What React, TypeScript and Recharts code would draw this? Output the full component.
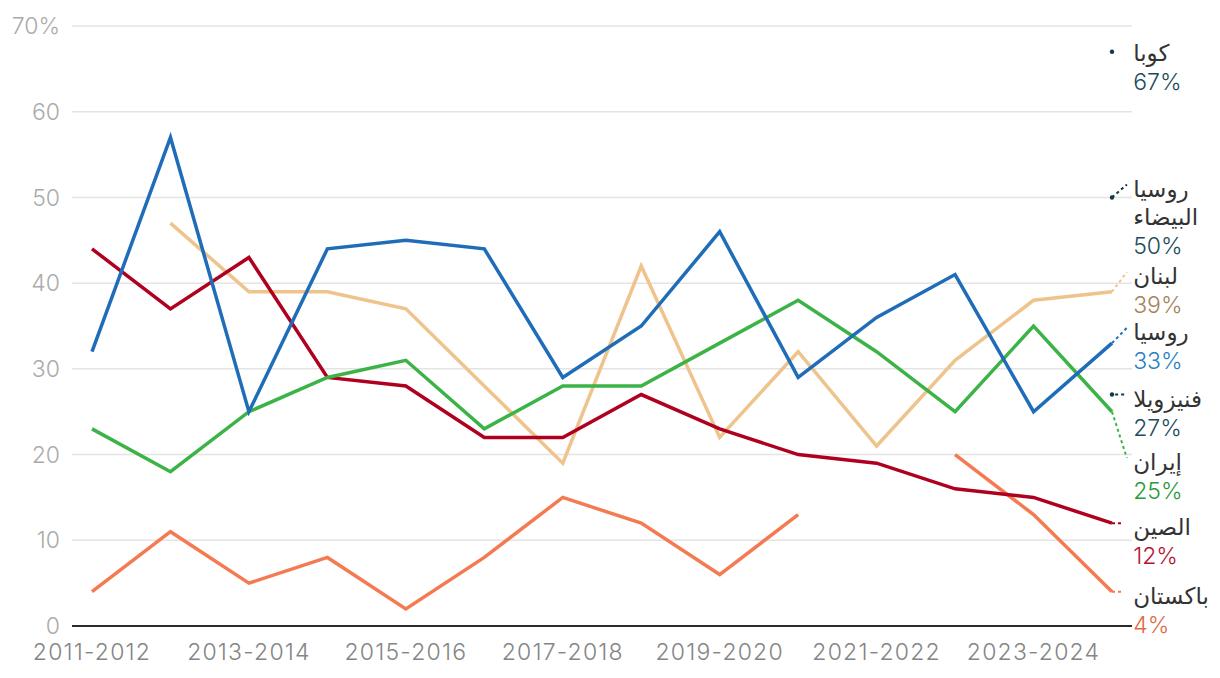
import React from "react"
import {
  LineChart,
  Line,
  XAxis,
  YAxis,
  CartesianGrid,
  ReferenceLine,
  ReferenceDot,
} from "recharts"

// seasons on the x axis
const categories = [
  "2011-2012",
  "2012-2013",
  "2013-2014",
  "2014-2015",
  "2015-2016",
  "2016-2017",
  "2017-2018",
  "2018-2019",
  "2019-2020",
  "2020-2021",
  "2021-2022",
  "2022-2023",
  "2023-2024",
  "2024-2025",
]

const yTicks = [0, 10, 20, 30, 40, 50, 60, 70]

// values in %
const russia = [32, 57, 25, 44, 45, 44, 29, 35, 46, 29, 36, 41, 25, 33]
const lebanon = [null, 47, 39, 39, 37, 28, 19, 42, 22, 32, 21, 31, 38, 39]
const iran = [23, 18, 25, 29, 31, 23, 28, 28, 33, 38, 32, 25, 35, 25]
const china = [44, 37, 43, 29, 28, 22, 22, 27, 23, 20, 19, 16, 15, 12]
const pakistan = [4, 11, 5, 8, 2, 8, 15, 12, 6, 13, null, 20, 13, 4]
const cuba = [null, null, null, null, null, null, null, null, null, null, null, null, null, 67]
const belarus = [null, null, null, null, null, null, null, null, null, null, null, null, null, 50]
const venezuela = [null, null, null, null, null, null, null, null, null, null, null, null, null, 27]

const NAVY = "#0e3a4c"

// series drawing order, colours and end labels
const series = [
  { key: "lebanon", values: lebanon, name: ["لبنان"], color: "#efc38c", text: "#a8825a", labelAt: 41.3, dotOnly: false },
  { key: "pakistan", values: pakistan, name: ["باكستان"], color: "#f47a52", text: "#e06a45", labelAt: 4, dotOnly: false },
  { key: "china", values: china, name: ["الصين"], color: "#b0001f", text: "#b3142f", labelAt: 12, dotOnly: false },
  { key: "iran", values: iran, name: ["إيران"], color: "#3bb346", text: "#2a9a3b", labelAt: 19.6, dotOnly: false },
  { key: "russia", values: russia, name: ["روسيا"], color: "#1f6db8", text: "#2b7fc6", labelAt: 34.8, dotOnly: false },
  { key: "venezuela", values: venezuela, name: ["فنيزويلا"], color: NAVY, text: "#1d4b5c", labelAt: 27, dotOnly: true },
  { key: "belarus", values: belarus, name: ["روسيا", "البيضاء"], color: NAVY, text: "#1d4b5c", labelAt: 51.5, dotOnly: true },
  { key: "cuba", values: cuba, name: ["كوبا"], color: NAVY, text: "#1d4b5c", labelAt: 67.3, dotOnly: true },
]

const data = categories.map((c, i) => {
  const row: any = { x: i, season: c }
  series.forEach((s) => {
    row[s.key] = s.values[i]
  })
  return row
})

const LAST = categories.length - 1
const FONT = "Inter, 'DejaVu Sans', sans-serif"

export default function App() {
  return (
    <div style={{ position: "absolute", left: 0, top: 0, fontFamily: FONT }}>
      <LineChart
        width={1220}
        height={678}
        data={data}
        margin={{ top: 26, right: 88, bottom: 12, left: 0 }}
      >
        <CartesianGrid vertical={false} stroke="#e4e4e4" strokeWidth={1.5} />
        <XAxis
          dataKey="x"
          type="number"
          domain={[0, LAST]}
          ticks={[0, 2, 4, 6, 8, 10, 12]}
          tickFormatter={(i) => categories[i]}
          padding={{ left: 20, right: 20 }}
          height={40}
          tickLine={false}
          tickSize={0}
          tickMargin={18}
          axisLine={{ stroke: "#2b2b2b", strokeWidth: 2 }}
          tick={{ fill: "#858585", fontSize: 23, fontWeight: 300, fontFamily: FONT, letterSpacing: 1.2 }}
        />
        <YAxis
          domain={[0, 70]}
          ticks={yTicks}
          tickFormatter={(v) => (v === 70 ? "70%" : String(v))}
          width={72}
          axisLine={false}
          tickLine={false}
          tickSize={0}
          tickMargin={12}
          tick={{ fill: "#ababab", fontSize: 23, fontWeight: 300, fontFamily: FONT }}
        />
        {series.map((s) => (
          <Line
            key={s.key}
            dataKey={s.key}
            stroke={s.color}
            strokeWidth={s.dotOnly ? 0 : 3.5}
            dot={s.dotOnly ? { r: 2.2, fill: s.color, stroke: "none" } : false}
            activeDot={false}
            connectNulls={false}
            isAnimationActive={false}
          />
        ))}
        {series.map((s) => {
          const last = s.values[LAST] as number
          const startX = s.key === "venezuela" ? LAST + 0.04 : LAST
          const endX = s.key === "china" || s.key === "pakistan" ? LAST + 0.13 : LAST + 0.19
          if (s.key === "cuba") return null
          return (
            <ReferenceLine
              key={"c-" + s.key}
              segment={[
                { x: startX, y: last },
                { x: endX, y: s.labelAt },
              ]}
              stroke={s.color}
              strokeWidth={2}
              strokeDasharray="3 3"
              ifOverflow="visible"
            />
          )
        })}
        {series.map((s) => (
          <ReferenceDot
            key={"l-" + s.key}
            x={LAST + 0.27}
            y={s.labelAt}
            r={0}
            ifOverflow="visible"
            shape={(p: any) => {
              const top = p.cy + 4
              return (
                <g>
                  {s.name.map((n, k) => (
                    <text
                      key={k}
                      x={p.cx}
                      y={top + k * 28 + 8}
                      fill="#333"
                      fontSize={23}
                      fontFamily={FONT}
                      textAnchor="start"
                    >
                      {n}
                    </text>
                  ))}
                  <text
                    x={p.cx}
                    y={top + s.name.length * 28 + 9}
                    fill={s.text}
                    fontSize={23}
                    fontWeight={300}
                    fontFamily={FONT}
                    textAnchor="start"
                  >
                    {`${s.values[LAST]}%`}
                  </text>
                </g>
              )
            }}
          />
        ))}
      </LineChart>
    </div>
  )
}
